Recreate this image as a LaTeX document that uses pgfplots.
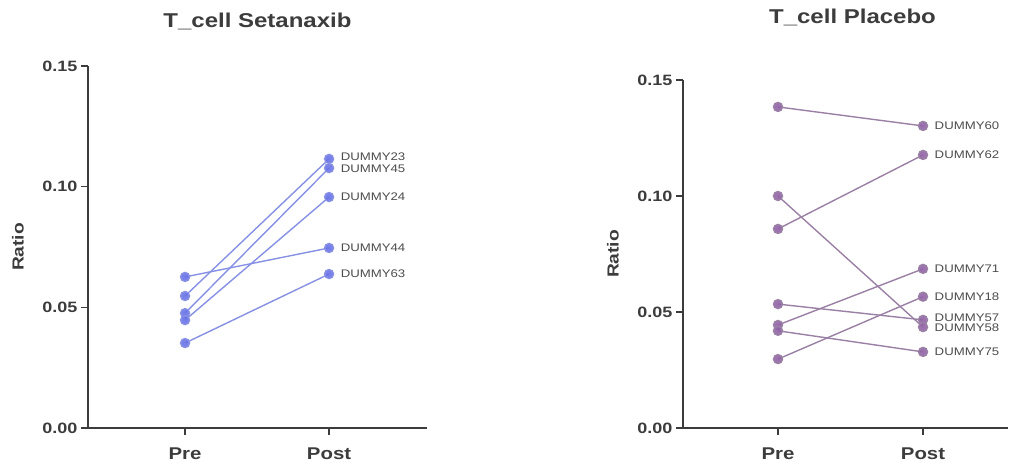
\documentclass[border=0pt]{standalone}
\usepackage{fontspec}
\setmainfont{Liberation Sans}[FakeStretch=1.2]
\usepackage{pgfplots}
\pgfplotsset{compat=1.18}

\definecolor{axgray}{HTML}{3C3C3C}
\definecolor{setmark}{RGB}{105,115,232}
\definecolor{setline}{RGB}{135,145,228}
\definecolor{plamark}{RGB}{145,100,165}
\definecolor{plaline}{RGB}{155,128,165}

\tikzset{
  dummylab/.style={anchor=west, inner sep=0pt, xshift=11pt,
    font=\fontsize{11}{11}\selectfont, text=black!70},
}

\pgfplotsset{
  pairstyle/.style={
    scale only axis,
    ymin=0, ymax=0.15,
    ytick={0,0.05,0.1,0.15},
    scaled y ticks=false,
    xtick={0,1},
    xticklabels={Pre,Post},
    axis lines=left,
    axis line style={-, draw=axgray, line width=2.2pt},
    tick style={draw=axgray, line width=1.6pt},
    tick align=outside,
    major tick length=7pt,
    clip=false,
    /pgf/number format/assume math mode=true,
    yticklabel style={/pgf/number format/.cd, fixed, fixed zerofill, precision=2},
    tick label style={font=\bfseries\fontsize{15}{15}\selectfont, text=axgray},
    xticklabel style={font=\bfseries\fontsize{17}{17}\selectfont, yshift=-9pt},
    ylabel={Ratio},
    ylabel style={font=\bfseries\fontsize{16}{16}\selectfont, text=axgray,
      at={(axis description cs:0,0.5)}, anchor=center, yshift=70pt},
    title style={font=\bfseries\fontsize{20}{20}\selectfont, text=axgray,
      at={(0.5,1)}, anchor=center},
  },
  setplot/.style={draw=setline, line width=1.4pt, mark=*, mark size=4.5pt,
    mark options={draw=none, fill=setmark, fill opacity=0.9}},
  plaplot/.style={draw=plaline, line width=1.4pt, mark=*, mark size=4.5pt,
    mark options={draw=none, fill=plamark, fill opacity=0.9}},
}

\begin{document}
\begin{tikzpicture}
\useasboundingbox (0,0) rectangle (1010pt,463pt);

% Setanaxib
\begin{axis}[pairstyle,
  at={(88pt,35pt)}, anchor=south west,
  width=339pt, height=362pt,
  xmin=-0.674, xmax=1.68,
  title={T\_cell Setanaxib},
  title style={yshift=39pt},
]
\addplot[setplot] coordinates {(0,0.0547) (1,0.1115)} node[pos=1, dummylab, yshift=2pt] {DUMMY23};
\addplot[setplot] coordinates {(0,0.0476) (1,0.1077)} node[pos=1, dummylab, yshift=-1pt] {DUMMY45};
\addplot[setplot] coordinates {(0,0.0447) (1,0.0957)} node[pos=1, dummylab] {DUMMY24};
\addplot[setplot] coordinates {(0,0.0626) (1,0.0746)} node[pos=1, dummylab] {DUMMY44};
\addplot[setplot] coordinates {(0,0.0352) (1,0.0638)} node[pos=1, dummylab] {DUMMY63};
\end{axis}

% Placebo
\begin{axis}[pairstyle,
  at={(683pt,35pt)}, anchor=south west,
  width=325pt, height=348pt,
  xmin=-0.655, xmax=1.586,
  title={T\_cell Placebo},
  title style={yshift=57pt, xshift=7pt},
]
\addplot[plaplot] coordinates {(0,0.1384) (1,0.1302)} node[pos=1, dummylab] {DUMMY60};
\addplot[plaplot] coordinates {(0,0.0858) (1,0.1177)} node[pos=1, dummylab] {DUMMY62};
\addplot[plaplot] coordinates {(0,0.0444) (1,0.0686)} node[pos=1, dummylab] {DUMMY71};
\addplot[plaplot] coordinates {(0,0.0297) (1,0.0566)} node[pos=1, dummylab] {DUMMY18};
\addplot[plaplot] coordinates {(0,0.0534) (1,0.0466)} node[pos=1, dummylab, yshift=2pt] {DUMMY57};
\addplot[plaplot] coordinates {(0,0.1000) (1,0.0435)} node[pos=1, dummylab, yshift=-1pt] {DUMMY58};
\addplot[plaplot] coordinates {(0,0.0419) (1,0.0328)} node[pos=1, dummylab] {DUMMY75};
\end{axis}
\end{tikzpicture}
\end{document}
